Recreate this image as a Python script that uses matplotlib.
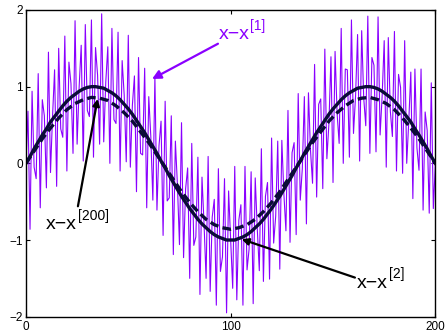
import numpy as np
import matplotlib
matplotlib.use("Agg")
from matplotlib import pyplot as plt

plt.rcParams['font.family'] = ['Liberation Sans', 'DejaVu Sans']

# x - x^[1] (one sample per unit, 0..200)
err1 = [0.00, 0.68, -0.86, 0.94, -0.05, -0.20, 1.17, -0.58, 0.83, 0.62,
        -0.32, 1.45, -0.12, 0.61, 1.22, -0.30, 1.50, 0.45, 0.34, 1.66,
        -0.10, 1.32, 1.04, 0.13, 1.86, 0.25, 1.00, 1.54, 0.03, 1.81,
        0.69, 0.61, 1.87, 0.08, 1.51, 1.15, 0.25, 1.95, 0.28, 1.06,
        1.52, 0.00, 1.76, 0.57, 0.52, 1.71, -0.10, 1.34, 0.89, 0.02,
        1.67, -0.05, 0.76, 1.14, -0.37, 1.38, 0.13, 0.11, 1.24, -0.58,
        0.87, 0.35, -0.48, 1.13, -0.61, 0.23, 0.55, -0.94, 0.81, -0.49,
        -0.45, 0.62, -1.19, 0.29, -0.28, -1.06, 0.53, -1.23, -0.33, -0.06,
        -1.50, 0.26, -1.07, -0.96, 0.08, -1.71, -0.18, -0.79, -1.50, 0.09,
        -1.67, -0.70, -0.47, -1.85, -0.07, -1.41, -1.22, -0.20, -1.95, -0.36,
        -1.00,
        -1.63, -0.04, -1.78, -0.74, -0.54, -1.85, -0.04, -1.39, -1.12, -0.11,
        -1.83, -0.19, -0.85, -1.40, 0.19, -1.54, -0.43, -0.25, -1.51, 0.33,
        -1.04, -0.69, 0.29, -1.38, 0.30, -0.40, -0.88, 0.69, -1.03, 0.14,
        0.27, -0.93, 0.91, -0.48, -0.07, 0.87, -0.79, 0.92, 0.17, -0.26,
        1.29, -0.44, 0.77, 0.84, -0.33, 1.49, 0.06, 0.52, 1.39, -0.25,
        1.46, 0.65, 0.26, 1.76, 0.00, 1.23, 1.22, 0.08, 1.87, 0.39,
        0.87, 1.68, 0.03, 1.73, 0.85, 0.49, 1.92, 0.13, 1.38, 1.28,
        0.15, 1.91, 0.37, 0.88, 1.60, -0.05, 1.64, 0.68, 0.35, 1.72,
        -0.10, 1.16, 0.99, -0.13, 1.60, 0.00, 0.55, 1.19, -0.46, 1.23,
        0.20, -0.09, 1.23, -0.61, 0.67, 0.43, -0.65, 1.05, -0.59, 0.00]

# x - x^[2] (every 2 units)
err2 = [0.00, 0.09, 0.19, 0.28, 0.37, 0.45, 0.54, 0.61, 0.68, 0.75,
        0.81, 0.86, 0.90, 0.94, 0.97, 0.99, 1.00, 1.00, 0.99, 0.98,
        0.95, 0.92, 0.88, 0.83, 0.77, 0.71, 0.64, 0.56, 0.48, 0.40,
        0.31, 0.22, 0.13, 0.03, -0.06, -0.16, -0.25, -0.34, -0.43, -0.51,
        -0.59, -0.66, -0.73, -0.79, -0.84, -0.89, -0.93, -0.96, -0.98, -1.00,
        -1.00,
        -1.00, -0.98, -0.96, -0.93, -0.89, -0.84, -0.79, -0.73, -0.66, -0.59,
        -0.51, -0.43, -0.34, -0.25, -0.16, -0.06, 0.03, 0.13, 0.22, 0.31,
        0.40, 0.48, 0.56, 0.64, 0.71, 0.77, 0.83, 0.88, 0.92, 0.95,
        0.98, 0.99, 1.00, 1.00, 0.99, 0.97, 0.94, 0.90, 0.86, 0.81,
        0.75, 0.68, 0.61, 0.54, 0.45, 0.37, 0.28, 0.19, 0.09, 0.00]

# x - x^[200] (every 4 units)
err200 = [0.00, 0.16, 0.32, 0.46, 0.59, 0.70, 0.78, 0.83, 0.86, 0.85,
          0.82, 0.75, 0.66, 0.55, 0.41, 0.27, 0.11, -0.05, -0.21, -0.37,
          -0.51, -0.63, -0.73, -0.80, -0.84, -0.86,
          -0.84, -0.80, -0.73, -0.63, -0.51, -0.37, -0.21, -0.05, 0.11, 0.27,
          0.41, 0.55, 0.66, 0.75, 0.82, 0.85, 0.86, 0.83, 0.78, 0.70,
          0.59, 0.46, 0.32, 0.16, 0.00]

x1 = np.linspace(0, 200, len(err1))
x2 = np.linspace(0, 200, len(err2))
x200 = np.linspace(0, 200, len(err200))

purple = '#8a00ff'
navy = '#0b0b38'

fig = plt.figure(figsize=(4.47, 3.33), dpi=100)
ax = fig.add_axes([0.058, 0.049, 0.916, 0.921])

ax.plot(x1, err1, color=purple, lw=0.8)
ax.plot(x2, err2, color=navy, lw=2.4)
ax.plot(x200, err200, color=navy, lw=2.4, dashes=(2.6, 1.3))

ax.set_xlim(0, 200)
ax.set_ylim(-2, 2)
ax.set_xticks([0, 100, 200])
ax.set_yticks([-2, -1, 0, 1, 2])
ax.tick_params(direction='in', top=True, right=True, length=3, width=0.8,
               labelsize=8.5)
ax.tick_params(axis='y', pad=2)
ax.tick_params(axis='x', pad=3)
for sp in ax.spines.values():
    sp.set_linewidth(1.0)


def label(x, y, sup, color):
    # base text with a near full size superscript, MATLAB style
    t = ax.text(x, y, 'x\u2212x', color=color, fontsize=14,
                ha='left', va='baseline')
    ax.annotate(sup, xy=(1, 0), xycoords=t, xytext=(0.8, 7.5),
                textcoords='offset points', color=color, fontsize=10,
                ha='left', va='bottom')


def arrow(start, tip, color, scale):
    ax.annotate('', xy=tip, xytext=start,
                arrowprops=dict(arrowstyle='-|>', color=color, lw=1.6,
                                mutation_scale=scale, shrinkA=0, shrinkB=0))


label(94, 1.62, '[1]', purple)
arrow((93.8, 1.56), (61.6, 1.10), purple, 13)

label(9.8, -0.86, '[200]', 'black')
arrow((25.4, -0.56), (35.0, 0.84), 'black', 10)

label(161.7, -1.62, '[2]', 'black')
arrow((160.7, -1.49), (105.4, -0.99), 'black', 10)

plt.savefig('out.png', dpi=100)
